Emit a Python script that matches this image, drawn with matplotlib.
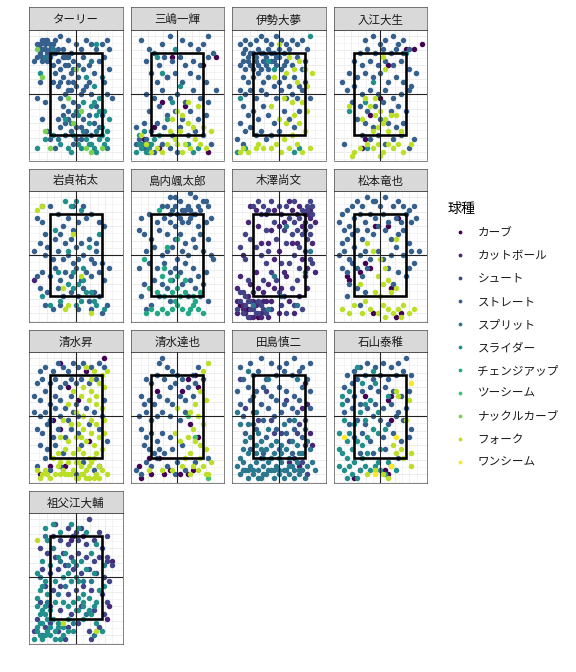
import numpy as np
import matplotlib
matplotlib.use("Agg")
import matplotlib.pyplot as plt
from matplotlib.patches import Rectangle
from matplotlib.lines import Line2D

plt.rcParams['font.family'] = ['Noto Sans CJK JP', 'DejaVu Sans']

# pitch types and colours (viridis, 11 levels)
pitch_types = ['カーブ', 'カットボール', 'シュート', 'ストレート', 'スプリット', 'スライダー',
               'チェンジアップ', 'ツーシーム', 'ナックルカーブ', 'フォーク', 'ワンシーム']
pitch_colors = ['#440154', '#482576', '#414487', '#35608D', '#2A788E', '#21908C',
                '#22A884', '#43BF71', '#7AD151', '#BBDF27', '#FDE725']

pitchers = ['ターリー', '三嶋一輝', '伊勢大夢', '入江大生', '岩貞祐太', '島内颯太郎', '木澤尚文',
            '松本竜也', '清水昇', '清水達也', '田島慎二', '石山泰稚', '祖父江大輔']

# pitch locations, "x,y" in zone units (zone = -10..10 both ways)
turley = {
    'ストレート': "-14,12 -13,13 -12,12 -11,13 -12,11 -10,12 -13,11 -11,10 -9,12 -14,10 -8,13 -6,14 -3,13 -16,8 -15,9 -13,8 -10,9 -8,10 -7,8 -5,11 -4,9 -2,10 0,12 2,11 4,13 6,12 8,11 10,12 12,13 13,11 -6,6 -4,7 -2,5 -8,5 -9,3 -7,2 -5,4 -3,3 -1,6 1,4 3,6 5,7 7,5 -4,0 -6,-1 -2,1 0,2 2,0 4,2 6,0 -1,-2 1,-3 -3,-4 -5,-5 -7,-6 -6,-8 -4,-7 -2,-9 0,-8 3,-6 5,-5 7,-7 9,-8 4,-9 8,-3 11,3 12,0 13,6 -12,-2 -15,-1 -13,-6 -11,-9 -10,-11 -14,3 11,9 9,8 -1,-12 -8,-13 2,-11 6,-10 -3,9 -9,7 10,-5 14,-1 -15,12 -14,11 -12,13 -10,11 -9,10 -11,8 -13,9 -7,11 -5,9 -3,7 -1,8 1,7 3,9 -6,3 -3,1 -1,3 3,1 5,3 -5,-3 -3,-6 -1,-5 2,-8 -4,-10 0,-11",
    'スライダー': "-15,-13 -12,-11 -9,-10 -6,-12 -3,-13 -1,-10 2,-13 5,-12 7,-13 9,-11 11,-12 10,-10 12,-9 13,-6 8,-5 6,-3 3,-2 9,-1 7,2 4,4 1,-5 -4,-6 11,-4 -14,5 8,12 4,-11 6,-12 8,-14 10,-8 12,-11 -2,-14 1,-12 9,-4 7,-2 5,-7",
    'スプリット': "-12,9 -9,11 10,4 6,8 -2,-7 3,-9 8,-9 12,-13 -7,-11 0,-4",
    'ナックルカーブ': "-15,11 -13,4 -3,-1 2,-4 -1,-7 10,-13 4,-13 -10,-13 6,-14 0,6 -12,-9",
}
mishima = {
    'ストレート': "-14,13 -11,11 -12,8 -9,10 -6,12 -3,14 2,13 5,12 8,11 10,12 12,14 14,10 -7,7 -5,9 -2,8 1,9 3,7 6,8 9,7 12,9 -10,5 -8,3 -4,4 -1,5 2,3 5,5 8,4 11,3 -12,0 -9,-1 -6,1 -3,-1 0,0 3,-2 6,1 9,-1 12,-2 -11,-4 -7,-3 -4,-5 -1,-4 2,-6 5,-4 8,-6 11,-5 -13,-7 -10,-9 -8,-7 -5,-8 -2,-10 1,-8 4,-10 7,-9 10,-10 -15,-11 -13,-13 -11,-12 -9,-14 -6,-12 -3,-13 0,-14 13,-12 -16,-8 15,1 -14,-12 -12,-11 -16,-12 -11,-14",
    'フォーク': "-2,-6 0,-4 2,-5 4,-7 1,-9 -1,-11 3,-12 5,-13 7,-11 9,-12 -4,-12 -6,-14 -12,-12 -14,-10 6,-8 8,-3 4,-2 -3,-9 11,-13 13,-9 -8,-13 2,-14 10,-8 0,-12 -10,-14",
    'カーブ': "15,9 10,7 -4,4 -6,-2 -9,-8 -13,-11 -7,-13 12,-14 3,-3 -2,9",
    'スライダー': "-15,-12 -13,-9 -11,-13 -9,-11 -16,-14 -7,-10 -4,-6 -2,-2 1,2 -6,5 -8,9 -1,11 4,-12 6,-14 8,-13 -14,-13 -12,-14 -10,-12 -15,-10 -13,-12",
}
ise = {
    'ストレート': "-15,12 -13,13 -11,12 -9,13 -7,14 -5,13 -3,12 -1,14 1,13 3,12 5,13 7,12 9,13 -14,10 -12,9 -10,10 -8,11 -6,10 -4,11 -2,10 0,11 2,10 4,11 -15,7 -13,6 -11,7 -9,8 -7,6 -5,7 -3,8 -1,7 1,6 3,8 5,7 7,9 9,6 -14,4 -12,3 -10,4 -8,5 -6,3 -4,4 -2,2 0,3 2,4 4,2 6,4 8,2 10,3 -15,1 -13,0 -11,1 -9,-1 -7,1 -5,0 -1,-1 1,1 3,-1 5,0 7,-1 9,1 -14,-3 -12,-5 -10,-4 -8,-6 -6,-3 -4,-5 -2,-7 2,-4 4,-6 8,-4 -15,-7 -13,-9 -11,-8 -9,-10 -7,-9 -5,-11 -3,-10 0,-9 6,-8 -16,-11 -14,-12 10,8 11,11 12,-1 -13,11 -11,10 -9,9 -7,10 -5,9 -3,10 -1,9 -14,8 -12,8 -10,6 -8,7 -6,8 -4,6 -2,8 0,9 2,7",
    'フォーク': "3,5 6,6 8,8 10,6 11,2 7,3 5,-2 2,-1 9,-2 11,-4 6,-5 3,-7 0,-6 -3,-3 8,-7 10,-9 5,-10 2,-11 -1,-12 -3,-13 -6,-13 -9,-13 -12,-14 -14,-13 1,-14 4,-13 7,-12 9,-14 12,-13 -15,-14 0,12 4,9 -2,4 13,5 -8,-12",
    'スライダー': "-15,-1 -13,-13 -16,-14 -2,6 -4,8 12,14 8,-13 6,-14",
}
irie = {
    'ストレート': "-6,13 -3,14 0,12 2,13 5,14 7,12 9,13 -8,10 -5,11 -2,10 1,11 4,10 6,11 9,10 11,11 -10,8 -7,7 -4,8 -1,7 2,8 5,7 8,8 11,6 -12,5 -9,4 -6,5 -3,4 0,5 3,3 6,4 9,3 12,2 -13,1 -10,2 -7,0 -4,1 -1,0 2,1 5,-1 8,0 11,1 -11,-2 -8,-3 -5,-4 -2,-3 1,-2 4,-4 7,-3 10,-4 -9,-6 -6,-7 -3,-8 0,-6 3,-7 6,-8 9,-7 -7,-10 -4,-11 -1,-10 2,-12 5,-11 8,-10 11,-13 -14,-12 13,-11 -15,3 14,5",
    'フォーク': "-4,-3 -2,-5 0,-4 2,-6 4,-5 -1,-8 1,-7 3,-9 -3,-9 -5,-12 -3,-13 -1,-12 1,-14 3,-12 5,-13 7,-12 9,-14 -8,-13 -10,-14 0,-15 -12,-3 -6,-1 2,6 1,9 -7,-6 6,-5 -2,-1 8,-9 12,-12 -11,-15",
    'カーブ': "13,11 16,12 10,11 3,7 0,-1 -4,-5 -7,-13 -6,-11",
    'スライダー': "-6,-2 -12,-4 -3,3 10,10 -5,-13",
}
iwasada = {
    'ストレート': "-15,9 -13,8 -12,5 -14,3 -11,2 -10,12 -7,10 -5,7 -3,9 -1,6 1,8 4,9 6,10 9,8 11,7 -8,4 -6,5 -4,3 -2,4 0,2 2,3 5,4 8,3 -12,0 -9,-1 -7,1 -5,-1 -3,0 -1,-2 1,-1 3,0 6,-1 8,1 10,-2 -13,-4 -10,-5 -8,-3 -6,-6 -4,-4 -2,-5 0,-3 2,-6 4,-4 6,-5 9,-4 11,-6 -14,-8 -11,-9 -7,-8 -5,-10 -2,-9 1,-10 3,-8 5,-11 7,-9 9,-10 -12,-12 -9,-13 -6,-12 1,-13 6,-13 10,-14 12,-12 -1,12 3,12 -15,-5 13,-3 -16,1 -13,12 7,-2",
    'スライダー': "-4,13 -2,12 0,13 2,11 -8,6 -3,1 -1,-4 1,-7 3,-6 4,-9 2,-11 -1,-8 -3,-7 6,-9 7,-11 8,-12 11,-13 -10,-12 -13,-10 0,-12 -7,-4 5,2 9,5 -6,-11 3,-3",
    'フォーク': "-15,11 -13,12 -1,5 -5,-8 -4,-13 -3,-12 2,-5 6,-14",
    'カットボール': "-16,-6",
}
shimauchi = {
    'ストレート': "-3,14 1,13 4,12 7,14 10,13 -6,12 -2,11 0,10 3,11 6,10 9,11 12,12 -14,9 -11,10 -8,8 -5,9 -3,8 -1,7 2,8 5,9 8,7 11,8 13,9 -13,5 -10,4 -7,6 -4,5 -1,4 1,5 3,3 6,4 9,5 12,4 -12,1 -9,2 -6,0 -4,1 -2,2 0,-1 2,1 4,0 7,2 10,1 13,0 -15,-3 -11,-2 -8,-3 -5,-2 -3,-4 -1,-3 1,-4 3,-2 6,-3 8,-5 11,-4 -13,-7 -9,-6 -6,-7 -4,-8 -2,-6 2,-7 5,-6 7,-8 10,-7 -14,-10 -7,-10 -3,-11 4,-10 9,-10 -10,-12 12,-11 -12,-13 -1,14 5,15 -15,6 14,-1 -4,12 -1,12 2,11 5,11 8,12 11,13 -3,10 1,9 4,8 7,10",
    'チェンジアップ': "-11,-8 -8,-9 -5,-10 -2,-9 0,-8 3,-9 6,-10 -6,-5 -3,-6 0,-5 -10,-13 -8,-14 -6,-13 -4,-14 -2,-13 0,-12 2,-13 4,-14 6,-12 8,-13 10,-14 -12,-14 -1,-11 1,-10 5,-13 7,-11 3,-6 -4,2 0,4 -7,11 -13,-1 -5,-3 9,-9",
}
kizawa = {
    'シュート': "-10,12 -8,13 -6,12 -4,11 -7,10 -3,13 0,12 3,12 6,13 9,11 11,12 13,10 12,13 4,9 6,8 8,9 10,8 12,7 7,6 9,5 11,4 5,5 3,3 8,2 10,1 12,-1 6,0 4,-2 8,-3 10,-5 13,-2 7,-6 5,-8 2,-10 -1,-6 -3,-4 -5,-2 -7,0 -9,2 -11,4 -13,-1 -12,-6 -14,-9 -15,-11 -13,-12 -11,-13 -9,-14 -7,-12 -5,-14 -16,-13 -12,-15 -8,-11 -10,-9 -3,-13 1,-12 3,-14 6,-12 9,-13 -2,8 -5,6 -1,4 1,-2 -6,-6 2,6 -4,1 0,-9 -13,5 -15,2 -14,-14 -12,-11 -10,-13 -8,-14 -6,-13 -15,-9 -13,-10 -11,-11 11,11 13,12 10,6 12,5",
    'カットボール': "-9,11 -5,10 -2,11 1,10 5,11 7,10 10,10 12,9 14,8 -12,8 -8,7 -3,6 0,7 2,8 5,3 7,3 9,-1 11,-3 13,3 14,-4 3,-5 1,-8 -2,-8 -4,-7 -6,-9 -8,-8 -10,-11 -12,-10 -14,-13 -16,-14 -13,-14 -10,-15 -7,-14 -4,-15 -6,-11 -11,-7 -9,-4 -7,3 -4,3 -2,-1 0,1 2,-4 4,-11 8,-10 11,-8 -15,-5 -14,0 -16,-8 6,-14 0,-14 -3,-11 8,12 4,13 -11,12 -16,-11 -14,-12 -11,-15 -9,-12 -7,-15 -5,-11 11,10 9,7 12,11",
    'スプリット': "3,7 12,1 10,-4 -2,-5 -4,-13 1,-10 7,-12 -10,-12",
    'カーブ': "-15,-12 -12,-13 -8,-15",
}
matsumoto = {
    'ストレート': "-15,10 -13,11 -16,8 -11,12 -9,13 -7,12 -5,14 -3,13 0,12 2,14 5,12 7,13 9,12 11,11 13,12 14,9 -14,6 -12,7 -10,9 -8,10 -6,8 -4,10 -2,9 1,10 3,8 6,9 8,8 10,10 12,8 -15,3 -13,4 -11,5 -9,6 -7,4 -5,6 -3,5 -1,7 2,6 4,4 7,5 9,6 11,3 -16,0 -14,1 -12,-1 -10,2 -8,0 -6,1 -4,-1 -1,1 1,-1 4,0 6,2 9,0 12,1 -15,-3 -13,-4 -11,-2 -9,-3 -7,-5 -5,-3 3,-3 7,-4 11,-3 13,-2 -12,-7 -9,-8 -6,-9 5,-7 -13,-10 -8,-12 10,-5 15,1 -2,13",
    'フォーク': "-5,3 -3,1 0,-1 2,-3 -1,-5 1,-7 3,-6 -8,-7 -2,-9 4,-9 6,-8 -15,-13 -12,-14 -10,-12 -7,-14 -4,-13 -1,-14 1,-12 3,-13 5,-14 7,-13 9,-12 11,-14 13,-13 -6,-11 2,-15 8,-15 0,-10 6,4",
    'カーブ': "-2,7 3,7 7,9 -6,-2 -4,-3 -8,-4 -13,-5 -12,-6 4,-8 -3,-14 6,-15 8,-14",
}
shimizu_n = {
    'ストレート': "-14,11 -12,12 -9,11 -7,13 -5,12 -3,11 -1,13 1,12 3,13 6,12 9,13 11,12 -15,8 -13,9 -10,8 -8,9 -6,7 -4,8 -2,9 0,8 2,9 5,8 8,9 -16,5 -14,4 -12,6 -10,3 -8,5 -6,4 -4,2 -2,5 0,3 -16,1 -14,0 -12,1 -10,-1 -8,2 -6,0 -3,-1 -1,1 1,0 4,2 7,1 10,0 -15,-3 -13,-4 -11,-2 -9,-5 -7,-3 -4,-5 -2,-3 1,-4 5,-2 9,-3 -14,-7 -11,-8 -8,-7 -5,-9 2,-7 -12,-10 -6,-12 3,-11 12,-6 -15,-12 -10,-13 0,-14 7,-13 11,4",
    'フォーク': "4,12 7,11 10,10 12,11 6,9 9,8 3,7 6,6 8,5 11,7 -1,6 2,5 5,4 8,3 10,2 -3,3 0,1 3,0 6,-1 8,-2 11,-1 -5,-1 -2,-2 1,-2 3,-3 6,-4 9,-5 11,-4 -6,-5 -3,-6 0,-5 2,-5 4,-6 7,-7 10,-8 -7,-9 -4,-8 -1,-9 1,-8 3,-9 5,-10 8,-9 -9,-10 -6,-11 -3,-11 0,-11 2,-12 4,-13 6,-11 9,-12 -15,-13 -13,-14 -11,-14 -8,-14 -5,-13 -3,-14 -1,-13 1,-15 3,-14 5,-15 8,-14 10,-13 -14,-15 12,-14 -7,-12 -12,-13 -10,-15 -6,-14 -2,-14 0,-15 2,-14 4,-15 7,-15 9,-15 -4,-14 5,-12 7,-10 1,-11",
    'カーブ': "-6,13 4,11 11,14 -3,7 1,4 -9,-1 -6,-3 -4,-12 5,-6 -14,-14 -10,-12 9,-12",
}
shimizu_t = {
    'ストレート': "-7,13 -6,14 -4,12 -2,11 0,10 2,9 6,10 8,12 -12,9 -10,8 -8,10 -5,9 -3,7 -1,8 4,7 7,8 10,9 -14,5 -11,4 -13,3 -9,3 -7,5 -4,4 -2,3 1,5 3,4 6,5 -15,0 -12,1 -10,-1 -8,0 -6,1 -3,0 1,-1 3,1 -14,-3 -12,-5 -10,-4 -8,-6 -6,-4 -3,-5 -13,-7 -11,-8 -9,-9 -7,-8 -5,-9 -2,-8 2,-7 -12,-11 -10,-12 -8,-10 -4,-12 0,-11 3,-13 -16,-13 -14,-14 7,-11 12,-10 -1,-14",
    'フォーク': "12,13 10,11 9,6 11,4 7,3 5,1 8,0 10,-2 6,-3 4,-5 7,-6 9,-7 11,-8 5,-9 3,-10 1,-6 -1,-4 8,-13 10,-12 12,-14 5,-14 2,-12 -2,-13 6,-12 -6,-13 9,-10 13,-11 0,2 11,-14 -11,-13",
    'カーブ': "7,10 4,9 8,7 2,6 5,-2 8,-5 -7,-10 -11,-10 -15,-12 -14,-15 -10,-14 -5,-14 -3,-13 1,-14 4,-14 6,-13 -8,6",
    'ツーシーム': "4,0 7,-5 12,-15",
}
tajima = {
    'ストレート': "-15,12 -11,13 -7,14 -3,13 0,12 3,13 6,14 9,12 12,13 -14,9 -10,10 -8,11 -5,9 -1,10 2,11 5,10 8,11 11,9 -16,6 -12,7 -9,6 -6,7 -3,5 0,7 3,6 6,5 9,7 12,6 -15,3 -11,4 -7,3 -4,2 -1,4 2,3 5,2 8,4 -14,0 -10,1 -6,-1 -2,0 1,1 4,-1 7,1 10,-1 12,2 -13,-4 -9,-3 -5,-5 -1,-3 3,-4 6,-3 9,-5 -11,-8 -6,-9 0,-8 5,-9",
    'スプリット': "-15,-2 -13,-6 -11,-5 -9,-7 -7,-6 -12,-9 -14,-11 -16,-12 -13,-13 -11,-12 -9,-11 -8,-13 -6,-12 -4,-11 -3,-13 -1,-12 1,-11 3,-13 5,-12 7,-11 9,-13 11,-12 13,-11 -15,-14 -12,-15 -10,-14 -7,-15 -5,-14 -2,-15 0,-14 2,-15 4,-14 6,-15 8,-14 10,-15 -5,-8 -3,-7 -1,-6 1,-7 3,-8 5,-6 7,-7 9,-9 11,-6 -8,-4 -4,-3 2,-2 6,-1 -10,-2 -2,-9 4,-10 8,-9 12,-8 -14,-8 10,-3 -6,-10 0,-10 -10,5 -4,9 -12,11 -9,1 7,9 -16,1 14,-13 -12,-2 -14,-13 -12,-13 -10,-13 -8,-15 -6,-14 -4,-13 -2,-13 0,-13 2,-13 4,-12 6,-13 8,-13 -9,-9 -7,-8 -3,-10 1,-9 -15,-10",
    'シュート': "-13,2 -8,-1 -3,-1 1,-4 4,-6 7,-4 10,-7 -7,-10 -2,-4 6,-10 9,-11 11,-14 -5,6 -15,9 3,4 8,-2",
    'カットボール': "9,2 11,3 12,-4 10,8 13,-7 4,-11 8,-12",
}
ishiyama = {
    'ストレート': "-13,10 -10,11 -8,12 -5,13 -2,12 1,13 4,12 7,13 10,14 -14,7 -11,8 -9,9 -6,10 -3,9 0,10 3,9 6,10 9,11 12,10 -13,4 -10,5 -7,6 -4,7 -1,6 2,7 5,6 8,5 11,6 -14,1 -11,2 -8,3 -5,2 -2,3 1,2 4,3 7,1 10,2 -12,-2 -9,-1 -6,-2 -3,0 0,-1 3,-2 6,0 9,-1 12,-3 -10,-5 -7,-4 -4,-6 1,-5 5,-4 8,-6 11,-5 -8,-9 -3,-9 2,-8 7,-10",
    'スライダー': "-12,6 -15,3 -14,-1 -16,-4 -13,-6 -11,-8 -15,-9 -16,-12 -14,-13 -12,-12 -10,-11 -8,-13 -6,-12 -4,-13 -2,-12 0,-13 2,-14 4,-12 -11,-14 -9,-15 -13,-15 -7,-10 -5,-9 -9,-6 -7,-7 -5,-5 -3,-3 -1,-4 -6,-1 -8,1 -4,4 -2,8 -7,8 -9,12 0,-8 -1,-11 -15,5 -12,-4 3,5 -10,-2 -13,-10 -6,3 -3,11 -16,-8 3,-11 -1,1 2,-3 6,-13",
    'フォーク': "6,6 7,5 5,-7 6,-9 8,-8 9,-10 12,-9 4,-12 1,-14 -2,-13 -5,-14 3,-15 12,-12 11,4 10,-1",
    'カーブ': "3,4 4,-1 -8,-13 -10,-15 2,-13 3,-14 4,5 -6,5",
    'ワンシーム': "-14,-5 6,-5 4,-12 -2,-14 12,8",
}
sobue = {
    'シュート': "-8,13 -3,12 0,11 2,12 5,14 9,11 12,10 -9,10 -6,9 -3,8 -1,10 1,9 4,8 7,9 10,7 12,5 -14,7 -11,6 -8,5 -5,6 -2,5 1,6 4,5 7,4 9,5 12,4 14,3 -13,2 -10,1 -7,2 -4,3 -1,2 2,1 5,2 8,1 11,0 13,-1 -12,-2 -9,-3 -6,-2 -3,-4 0,-3 3,-2 6,-3 10,-4 12,-6 -14,-6 -10,-7 -6,-8 -2,-9 2,-7 7,-8 11,-9 -15,-10 -12,-12 -10,-11 -7,-13 -3,-12 1,-11 5,-13 9,-12 -16,-13 -13,-14 -4,-15 6,-15",
    'スライダー': "-12,12 -11,9 -9,13 -6,11 -2,13 1,12 4,11 -13,4 -15,1 -12,-1 -14,-3 -11,-4 -13,-8 -15,-7 -12,-9 -14,-11 -11,-13 -15,-12 -13,-15 -16,-15 -10,-14 -8,-13 -6,-15 -9,-10 -7,-11 -5,-12 -8,-6 -5,-6 -3,-7 -1,-6 1,-5 3,-6 5,-5 8,-6 9,-3 11,-2 7,1 4,2 1,-1 -2,-1 -5,0 -8,-1 -10,3 -7,5 -4,6 -1,4 2,4 6,6 8,8 -3,1 0,0 3,-4 6,-9 8,-11 10,-13 -1,-13 -3,-10 0,-8 3,-10 -14,-14 -12,-14 -15,-13 -14,-9 -12,-7 -13,-11 -10,-12 -8,-15 -11,-10 -7,-12 -15,-5 -13,-2 -10,-8 -5,-14 -3,-13 1,-8 3,-7 5,-8 7,-7",
    'スプリット': "-12,10 -9,7 -6,4 -3,3 0,3 3,-1 6,-1 -11,-6 -7,-4 -4,-2 -1,-11 4,-9 7,-14 -14,0 11,3",
    'フォーク': "-15,9 -5,-11 8,-13",
    'カットボール': "-2,9 13,-7 14,4 12,-10 -1,10 3,10",
}

pitcher_data = [turley, mishima, ise, irie, iwasada, shimauchi, kizawa,
                matsumoto, shimizu_n, shimizu_t, tajima, ishiyama, sobue]


def parse(s):
    arr = np.array([p.split(',') for p in s.split()], dtype=float)
    return arr[:, 0], arr[:, 1]


W, H = 576, 672
fig = plt.figure(figsize=(W / 72, H / 72), dpi=72)

col_x = [29, 130.5, 232, 333.5]
row_top = [7.5, 168.6, 329.7, 490.8]
panel_w, strip_h, panel_h = 93.5, 22.5, 130.5

grid_x = np.arange(-5, 6) * 2.82
grid_y = np.arange(-9, 10) * 1.76

for i, name in enumerate(pitchers):
    r, c = divmod(i, 4)
    x0, top = col_x[c], row_top[r]
    ax = fig.add_axes([x0 / W, 1 - (top + strip_h + panel_h) / H, panel_w / W, panel_h / H])
    st = fig.add_axes([x0 / W, 1 - (top + strip_h) / H, panel_w / W, strip_h / H])

    # grid
    for k, gx in enumerate(grid_x):
        ax.axvline(gx, color='#EBEBEB', lw=0.9 if k % 2 else 0.5, zorder=0)
    for k, gy in enumerate(grid_y):
        ax.axhline(gy, color='#EBEBEB', lw=0.9 if k % 2 else 0.5, zorder=0)

    d = pitcher_data[i]
    for pt, col in zip(pitch_types, pitch_colors):
        if pt in d:
            xs, ys = parse(d[pt])
            ax.scatter(xs, ys, s=30, color=col, linewidths=0, zorder=2)

    ax.axvline(0, color='#222222', lw=1.1, zorder=3)
    ax.axhline(0, color='#222222', lw=1.1, zorder=3)
    ax.add_patch(Rectangle((-10, -10), 20, 20, fill=False, ec='black', lw=2.6, zorder=4))

    ax.set_xlim(-18.1, 18.1)
    ax.set_ylim(-16.1, 15.5)
    ax.set_xticks([])
    ax.set_yticks([])
    for sp in ax.spines.values():
        sp.set_color('#333333')
        sp.set_linewidth(0.6)

    st.set_facecolor('#D9D9D9')
    st.set_xticks([])
    st.set_yticks([])
    for sp in st.spines.values():
        sp.set_color('#333333')
        sp.set_linewidth(0.6)
    st.text(0.5, 0.45, name, ha='center', va='center', fontsize=11.5, color='#1A1A1A',
            transform=st.transAxes)

handles = [Line2D([], [], marker='o', ls='', color=c, markersize=3.8, markeredgewidth=0)
           for c in pitch_colors]
leg = fig.legend(handles, pitch_types, loc='upper left', bbox_to_anchor=(442 / W, 1 - 197 / H),
                 frameon=False, title='球種', title_fontsize=14, fontsize=11.6,
                 handlelength=2.2, handletextpad=0.4, labelspacing=0.86,
                 borderpad=0.45, borderaxespad=0, alignment='left')
for t in leg.get_texts():
    t.set_color('#1A1A1A')

fig.savefig('out.png', dpi=72)
